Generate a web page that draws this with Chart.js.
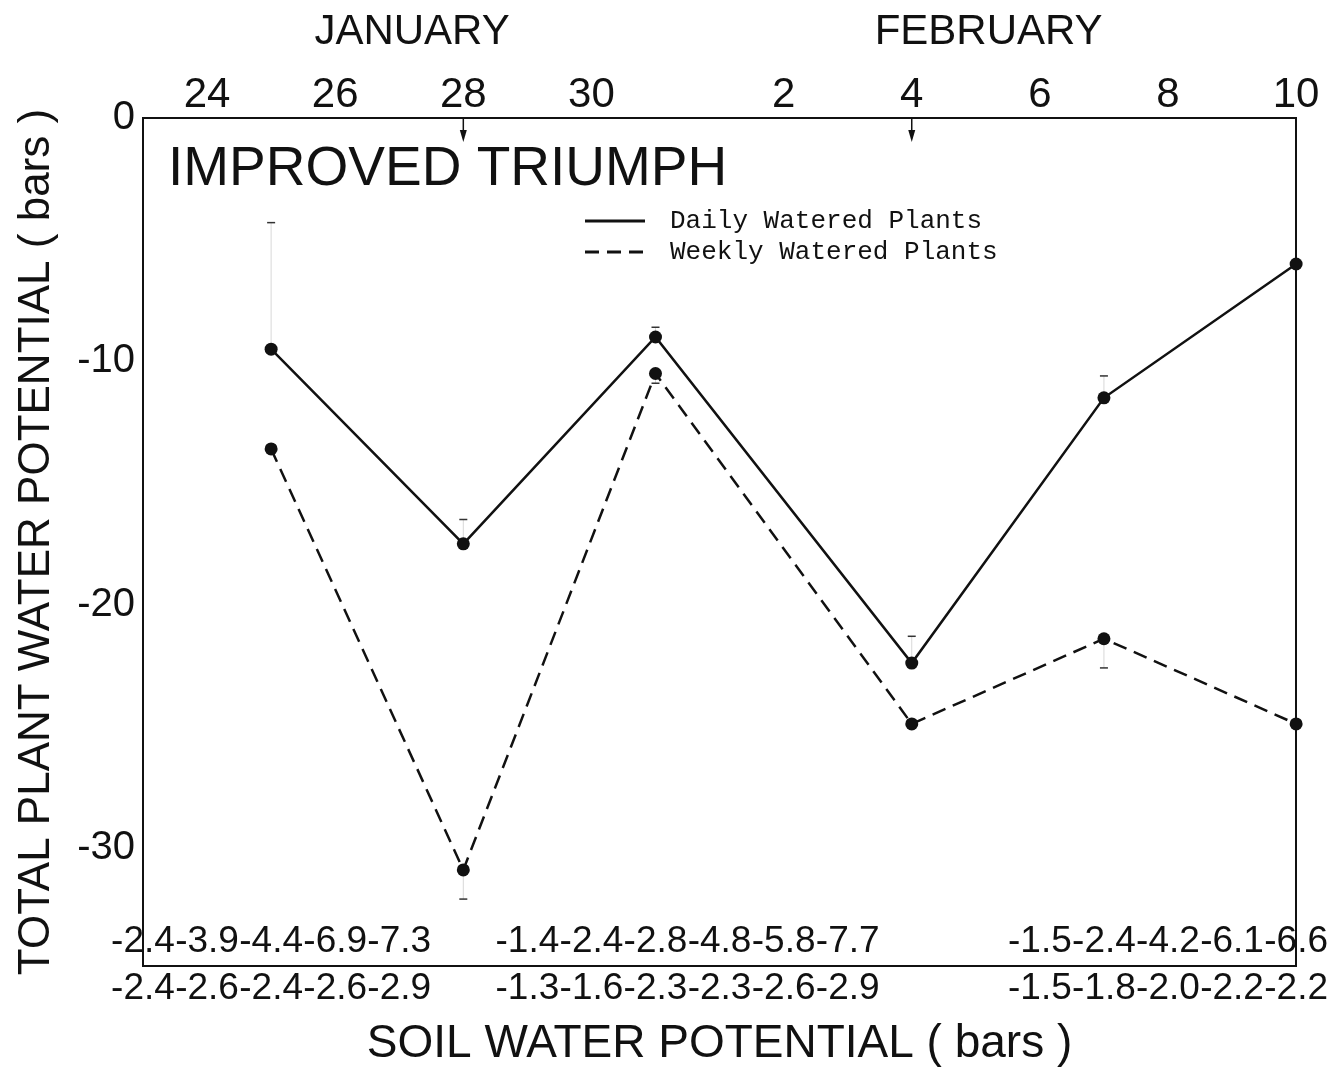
<!DOCTYPE html>
<html>
<head>
<meta charset="utf-8">
<title>Improved Triumph - plant water potential</title>
<script src="https://cdn.jsdelivr.net/npm/chart.js@4.4.1/dist/chart.umd.min.js"></script>
<style>
  html, body { margin: 0; padding: 0; background: #fff; }
  #wrap { width: 1329px; height: 1067px; }
</style>
</head>
<body>
<div id="wrap"><canvas id="chart" width="1329" height="1067"></canvas></div>
<script>
// Dates are day numbers counted from 1 January (Feb n = 31 + n)
const sampleDays = [25, 28, 31, 35, 38, 41];
const dailyWatered = [-9.5, -17.5, -9.0, -22.4, -11.5, -6.0];
const weeklyWatered = [-13.6, -30.9, -10.5, -24.9, -21.4, -24.9];
const dailyErr = [5.2, 1.0, 0.4, 1.1, 0.9, 0];   // drawn upwards
const weeklyErr = [0, 1.2, 0.4, 0, 1.2, 0];      // drawn downwards

const dayTicks = [24, 26, 28, 30, 33, 35, 37, 39, 41];
const dayLabels = ['24', '26', '28', '30', '2', '4', '6', '8', '10'];
const monthPos = [27.2, 36.2];
const monthLabels = ['JANUARY', 'FEBRUARY'];
const wateringDays = [28, 35];

const yTicks = [0, -10, -20, -30];

// Soil water potential (bars) printed under the plot
const soilDays = [23, 24, 25, 26, 27, 29, 30, 31, 32, 33, 34, 37, 38, 39, 40, 41];
const soilUpper = [-2.4, -3.9, -4.4, -6.9, -7.3, -1.4, -2.4, -2.8, -4.8, -5.8, -7.7, -1.5, -2.4, -4.2, -6.1, -6.6];
const soilLower = [-2.4, -2.6, -2.4, -2.6, -2.9, -1.3, -1.6, -2.3, -2.3, -2.6, -2.9, -1.5, -1.8, -2.0, -2.2, -2.2];

const LETTER = "'Liberation Sans Narrow', 'Liberation Sans', Arial, sans-serif";
const INK = '#111';

function fmt(v) {
    return v.toFixed(1);
}

// error bars, arrows, inner soil row, title and legend
const extras = {
    id: 'extras',
    beforeDatasetsDraw(chart) {
        const { ctx, scales } = chart;
        ctx.save();
        const bars = [[dailyWatered, dailyErr, 1], [weeklyWatered, weeklyErr, -1]];
        bars.forEach(([vals, errs, dir]) => {
            vals.forEach((v, i) => {
                if (!errs[i]) return;
                const px = scales.x.getPixelForValue(sampleDays[i]);
                const p0 = scales.y.getPixelForValue(v);
                const p1 = scales.y.getPixelForValue(v + dir * errs[i]);
                ctx.lineWidth = 1;
                ctx.strokeStyle = '#d8d8d8';
                ctx.beginPath();
                ctx.moveTo(px, p0);
                ctx.lineTo(px, p1);
                ctx.stroke();
                ctx.lineWidth = 1.5;
                ctx.strokeStyle = '#333';
                ctx.beginPath();
                ctx.moveTo(px - 4, p1);
                ctx.lineTo(px + 4, p1);
                ctx.stroke();
            });
        });
        ctx.restore();
    },
    afterDatasetsDraw(chart) {
        const { ctx, chartArea, scales } = chart;
        ctx.save();
        ctx.fillStyle = INK;
        ctx.strokeStyle = INK;

        // watering arrows under the top axis
        wateringDays.forEach(d => {
            const px = scales.x.getPixelForValue(d);
            ctx.lineWidth = 1.5;
            ctx.beginPath();
            ctx.moveTo(px, chartArea.top);
            ctx.lineTo(px, chartArea.top + 14);
            ctx.stroke();
            ctx.beginPath();
            ctx.moveTo(px - 3.5, chartArea.top + 12);
            ctx.lineTo(px + 3.5, chartArea.top + 12);
            ctx.lineTo(px, chartArea.top + 24);
            ctx.closePath();
            ctx.fill();
        });

        // upper row of soil readings, just above the bottom axis
        ctx.font = '37px ' + LETTER;
        ctx.textAlign = 'center';
        ctx.textBaseline = 'middle';
        soilUpper.forEach((v, i) => {
            ctx.fillText(fmt(v), scales.x.getPixelForValue(soilDays[i]), chartArea.bottom - 24);
        });

        // cultivar name
        ctx.font = '55px ' + LETTER;
        ctx.textAlign = 'left';
        ctx.fillText('IMPROVED TRIUMPH', chartArea.left + 25, 170);

        // legend
        ctx.font = "26px 'Liberation Mono', 'Courier New', monospace";
        chart.data.datasets.forEach((ds, i) => {
            const ly = 221 + i * 31;
            ctx.lineWidth = 3;
            ctx.setLineDash(ds.borderDash || []);
            ctx.beginPath();
            ctx.moveTo(585, ly);
            ctx.lineTo(645, ly);
            ctx.stroke();
            ctx.setLineDash([]);
            ctx.fillText(ds.label, 670, ly);
        });
        ctx.restore();
    }
};

const ctx = document.getElementById('chart');

new Chart(ctx, {
    type: 'line',
    data: {
        datasets: [
            {
                label: 'Daily Watered Plants',
                data: sampleDays.map((d, i) => ({ x: d, y: dailyWatered[i] })),
                borderColor: INK,
                borderWidth: 2.5,
                pointRadius: 6.5,
                pointBackgroundColor: INK,
                pointBorderWidth: 0,
                tension: 0,
                clip: false
            },
            {
                label: 'Weekly Watered Plants',
                data: sampleDays.map((d, i) => ({ x: d, y: weeklyWatered[i] })),
                borderColor: INK,
                borderWidth: 2.5,
                borderDash: [14, 8],
                pointRadius: 6.5,
                pointBackgroundColor: INK,
                pointBorderWidth: 0,
                tension: 0,
                clip: false
            }
        ]
    },
    options: {
        responsive: false,
        animation: false,
        events: [],
        layout: { padding: { top: 0, right: 32, bottom: 0, left: 0 } },
        plugins: {
            legend: { display: false },
            tooltip: { enabled: false }
        },
        scales: {
            x: {
                type: 'linear',
                position: 'bottom',
                min: 23,
                max: 41,
                afterBuildTicks: s => { s.ticks = soilDays.map(v => ({ value: v })); },
                afterFit: s => { s.height = 101; },
                grid: { drawOnChartArea: false, drawTicks: false },
                border: { display: true, color: INK, width: 2 },
                ticks: {
                    autoSkip: false,
                    maxRotation: 0,
                    padding: 1,
                    color: INK,
                    font: { family: LETTER, size: 37 },
                    callback: (v, i) => fmt(soilLower[i])
                },
                title: {
                    display: true,
                    text: 'SOIL WATER POTENTIAL ( bars )',
                    color: INK,
                    padding: 0,
                    font: { family: LETTER, size: 46, lineHeight: 1 }
                }
            },
            x2: {
                type: 'linear',
                position: 'top',
                min: 23,
                max: 41,
                weight: 0,
                afterBuildTicks: s => { s.ticks = dayTicks.map(v => ({ value: v })); },
                afterFit: s => { s.height = 58; },
                grid: { drawOnChartArea: false, drawTicks: false },
                border: { display: true, color: INK, width: 2 },
                ticks: {
                    autoSkip: false,
                    maxRotation: 0,
                    padding: 2,
                    color: INK,
                    font: { family: LETTER, size: 42, lineHeight: 1 },
                    callback: (v, i) => dayLabels[i]
                }
            },
            x3: {
                type: 'linear',
                position: 'top',
                min: 23,
                max: 41,
                weight: 1,
                afterBuildTicks: s => { s.ticks = monthPos.map(v => ({ value: v })); },
                afterFit: s => { s.height = 60; },
                grid: { display: false, drawOnChartArea: false, drawTicks: false },
                border: { display: false },
                ticks: {
                    autoSkip: false,
                    maxRotation: 0,
                    padding: 7,
                    color: INK,
                    font: { family: LETTER, size: 42, lineHeight: 1 },
                    callback: (v, i) => monthLabels[i]
                }
            },
            y: {
                type: 'linear',
                position: 'left',
                min: -34.85,
                max: 0,
                afterBuildTicks: s => { s.ticks = yTicks.map(v => ({ value: v })); },
                afterFit: s => { s.width = 143; },
                grid: { drawOnChartArea: false, drawTicks: false },
                border: { display: true, color: INK, width: 2 },
                ticks: {
                    padding: 8,
                    color: INK,
                    font: { family: LETTER, size: 40 },
                    callback: v => String(v)
                },
                title: {
                    display: true,
                    text: 'TOTAL PLANT WATER POTENTIAL ( bars )',
                    color: INK,
                    padding: { top: 15, bottom: 0 },
                    font: { family: LETTER, size: 44, lineHeight: 1 }
                }
            },
            y2: {
                type: 'linear',
                position: 'right',
                min: -34.85,
                max: 0,
                afterFit: s => { s.width = 0; },
                grid: { drawOnChartArea: false, drawTicks: false },
                border: { display: true, color: INK, width: 2 },
                ticks: { display: false }
            }
        }
    },
    plugins: [extras]
});
</script>
</body>
</html>
